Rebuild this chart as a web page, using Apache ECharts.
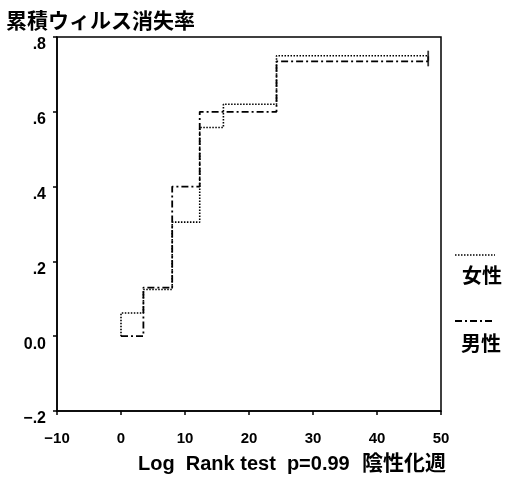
<!DOCTYPE html>
<html>
<head>
<meta charset="utf-8">
<script src="https://cdn.jsdelivr.net/npm/echarts@6/dist/echarts.min.js"></script>
<style>html,body{margin:0;padding:0;background:#fff}#c{width:505px;height:479px}</style>
</head>
<body>
<div id="c"></div>
<script>
var title = '累積ウィルス消失率';
var xName = 'Log  Rank test  p=0.99';
var xNameJa = '陰性化週';
var seriesNames = ['女性', '男性'];
var femaleX = [0, 0, 3.5, 8, 12.3, 16, 24.3, 48];
var femaleY = [0, 0.062, 0.125, 0.305, 0.558, 0.62, 0.75, 0.75];
var maleX = [0, 3.5, 8, 12.3, 24.3, 48];
var maleY = [0, 0.13, 0.4, 0.6, 0.735, 0.735];
var censorX = [48, 48];
var censorY = [0.75, 0.735];
var xTicks = [-10, 0, 10, 20, 30, 40, 50];
var yTicks = [-0.2, 0, 0.2, 0.4, 0.6, 0.8];

function zip(a, b) { return a.map(function (v, i) { return [v, b[i]]; }); }
function yFmt(v) {
  if (Math.abs(v) < 1e-9) return '0.0';
  var s = v.toFixed(1);
  return s.replace('0.', '.');
}

var chart = echarts.init(document.getElementById('c'));
var font = 'Liberation Sans';
chart.setOption({
  animation: false,
  backgroundColor: '#fff',
  grid: { left: 57, right: 64, top: 37, bottom: 68, show: true, borderColor: '#000', borderWidth: 1.5 },
  xAxis: {
    type: 'value', min: xTicks[0], max: xTicks[xTicks.length - 1], interval: 10,
    axisLine: { show: true, onZero: false, lineStyle: { color: '#000', width: 1.5 } },
    axisTick: { show: true, inside: false, length: 4, lineStyle: { color: '#000', width: 1.5 } },
    splitLine: { show: false },
    axisLabel: { color: '#000', fontFamily: font, fontWeight: 'bold', fontSize: 15, margin: 20,
      formatter: function (v) { return v < 0 ? '\u2212' + Math.abs(v) : String(v); } }
  },
  yAxis: {
    type: 'value', min: yTicks[0], max: yTicks[yTicks.length - 1], interval: 0.2,
    axisLine: { show: true, onZero: false, lineStyle: { color: '#000', width: 1.5 } },
    axisTick: { show: true, inside: false, length: 4, lineStyle: { color: '#000', width: 1.5 } },
    splitLine: { show: false },
    axisLabel: { color: '#000', fontFamily: font, fontWeight: 'bold', fontSize: 16, margin: 11,
      verticalAlign: 'top',
      formatter: function (v) { var s = yFmt(v); return s.charAt(0) === '-' ? '\u2212' + s.slice(1) : s; } }
  },
  series: [
    { name: seriesNames[0], type: 'line', step: 'end', showSymbol: false, symbol: 'none',
      data: zip(femaleX, femaleY), lineStyle: { color: '#000', width: 1.6, type: [1.5, 1.5] } },
    { name: seriesNames[1], type: 'line', step: 'end', showSymbol: false, symbol: 'none',
      data: zip(maleX, maleY), lineStyle: { color: '#000', width: 1.8, type: [7, 3, 2, 3] } },
    { type: 'scatter', data: zip(censorX, censorY), symbol: 'rect', symbolSize: [1.8, 10],
      itemStyle: { color: '#000' } }
  ],
  graphic: [
    { type: 'text', left: 6, top: 10, style: { text: title, fill: '#000', font: 'bold 21px "Noto Sans CJK JP"' } },
    { type: 'text', left: 138, top: 454, style: { text: xName, fill: '#000', font: 'bold 20px "Liberation Sans"' } },
    { type: 'text', left: 362, top: 452, style: { text: xNameJa, fill: '#000', font: 'bold 21px "Noto Sans CJK JP"' } },
    { type: 'line', shape: { x1: 455, y1: 255, x2: 495, y2: 255 }, style: { stroke: '#000', lineWidth: 1.6, lineDash: [1.5, 1.5] } },
    { type: 'text', left: 462, top: 265, style: { text: seriesNames[0], fill: '#000', font: 'bold 20px "Noto Sans CJK JP"' } },
    { type: 'line', shape: { x1: 455, y1: 321, x2: 495, y2: 321 }, style: { stroke: '#000', lineWidth: 1.8, lineDash: [7, 3, 2, 3] } },
    { type: 'text', left: 461, top: 333, style: { text: seriesNames[1], fill: '#000', font: 'bold 20px "Noto Sans CJK JP"' } }
  ]
});
</script>
</body>
</html>
